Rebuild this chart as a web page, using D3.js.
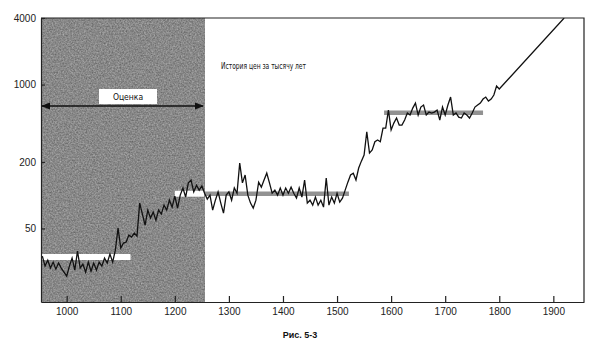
<!DOCTYPE html>
<html>
<head>
  <meta charset="UTF-8">
  <style>
    body { margin: 0; background: #fff; }
    svg { display: block; }
  </style>
</head>
<body>
<svg></svg>

<script src="https://d3js.org/d3.v7.min.js"></script>
<script>

let width = 600, height = 358;

// price index
let years = [955, 960, 965, 970, 975, 980, 985, 990, 995,
  1000, 1005, 1010, 1015, 1020, 1025, 1030, 1035, 1040, 1045, 1050, 1055, 1060, 1065, 1070, 1075, 1080, 1085, 1090, 1095,
  1100, 1105, 1110, 1115, 1120, 1125, 1130, 1135, 1140, 1145, 1150, 1155, 1160, 1165, 1170, 1175, 1180, 1185, 1190, 1195,
  1200, 1205, 1210, 1215, 1220, 1225, 1230, 1235, 1240, 1245, 1250, 1255, 1260, 1265, 1270, 1275, 1280, 1285, 1290, 1295,
  1300, 1305, 1310, 1315, 1320, 1325, 1330, 1335, 1340, 1345, 1350, 1355, 1360, 1365, 1370, 1375, 1380, 1385, 1390, 1395,
  1400, 1405, 1410, 1415, 1420, 1425, 1430, 1435, 1440, 1445, 1450, 1455, 1460, 1465, 1470, 1475, 1480, 1485, 1490, 1495,
  1500, 1505, 1510, 1515, 1520, 1525, 1530, 1535, 1540, 1545, 1550, 1555, 1560, 1565, 1570, 1575, 1580, 1585, 1590, 1595,
  1600, 1605, 1610, 1615, 1620, 1625, 1630, 1635, 1640, 1645, 1650, 1655, 1660, 1665, 1670, 1675, 1680, 1685, 1690, 1695,
  1700, 1705, 1710, 1715, 1720, 1725, 1730, 1735, 1740, 1745, 1750, 1755, 1760, 1765, 1770, 1775, 1780, 1785, 1790, 1795,
  1800, 1920];
let prices = [28.1, 22.8, 25.8, 21.9, 24.8, 21.4, 24.3, 21.9, 20.1,
  18.5, 22.8, 26.9, 21.0, 31.2, 21.9, 23.8, 20.1, 24.8, 20.5, 24.3, 21.0, 24.8, 22.8, 26.9, 24.3, 29.3, 24.8, 31.8, 50.3,
  33.2, 36.8, 37.6, 43.5, 41.7, 45.4, 42.6, 84.7, 67.4, 53.6, 73.2, 62.0, 70.2, 59.4, 73.2, 67.4, 81.2, 73.2, 90, 77.9,
  98, 76.3, 100, 116, 96, 129, 137, 107, 123, 111, 121, 104, 92, 100, 73.2, 90, 107, 84.7, 68.8, 100,
  107, 90, 116, 104, 195, 129, 152, 100, 84.7, 76.3, 90, 131, 118, 137, 158, 129, 104, 111, 100, 116,
  100, 116, 104, 118, 104, 94, 116, 96, 137, 84.7, 90, 81.2, 96, 81.2, 90, 77.9, 143, 81.2, 96, 84.7,
  104, 86.5, 94, 111, 131, 152, 158, 137, 176, 203, 230, 374, 240, 256, 304, 315, 304, 404, 404, 588,
  388, 448, 498, 430, 430, 478, 553, 530, 613, 680, 530, 626, 653, 530, 564, 553, 564, 588, 478, 626,
  530, 653, 771, 530, 553, 508, 498, 553, 530, 498, 553, 626, 653, 680, 740, 771, 709, 740, 804, 970,
  911, 4000];

// average levels (horizontal bands)
let bandFrom = [952, 1200, 1587];
let bandTo = [1118, 1522, 1770];
let bandLevel = [27.5, 103, 555];

let xTicks = [1000, 1100, 1200, 1300, 1400, 1500, 1600, 1700, 1800, 1900];
let yTicks = [50, 200, 1000, 4000];

let estimateEnd = 1254;
let title = "История цен за тысячу лет";
let estimateLabel = "Оценка";
let caption = "Рис. 5-3";

let mLeft = 41, mRight = 584, mTop = 18, mBottom = 302;
let condensed = "DejaVu Sans Condensed, Liberation Sans Narrow, sans-serif";

let svg = d3.select("svg")
    .attr("width", width)
    .attr("height", height)
    .attr("viewBox", "0 0 " + width + " " + height);

let x = d3.scaleLinear().domain([952.5, 1956.7]).range([mLeft, mRight]);
let y = d3.scaleLog().domain([10.8, 4000]).range([mBottom, mTop]);

let defs = svg.append("defs");

// grainy grey for the estimated period
let grain = defs.append("filter")
    .attr("id", "grain")
    .attr("color-interpolation-filters", "sRGB")
    .attr("x", 0).attr("y", 0).attr("width", "100%").attr("height", "100%");
grain.append("feTurbulence")
    .attr("type", "fractalNoise")
    .attr("baseFrequency", 0.65)
    .attr("numOctaves", 3)
    .attr("seed", 7)
    .attr("result", "noise");
grain.append("feColorMatrix")
    .attr("in", "noise")
    .attr("type", "matrix")
    .attr("values", "0.35 0 0 0 0.36  0.35 0 0 0 0.36  0.35 0 0 0 0.36  0 0 0 0 1");

defs.append("clipPath").attr("id", "plot")
  .append("rect")
    .attr("x", mLeft).attr("y", mTop)
    .attr("width", mRight - mLeft).attr("height", mBottom - mTop);

defs.append("marker")
    .attr("id", "arrow")
    .attr("viewBox", "0 0 10 10")
    .attr("refX", 9).attr("refY", 5)
    .attr("markerWidth", 7).attr("markerHeight", 7)
    .attr("orient", "auto-start-reverse")
  .append("path")
    .attr("d", "M0,1 L10,5 L0,9 Z")
    .attr("fill", "#111");

svg.append("rect")
    .attr("x", mLeft)
    .attr("y", mTop)
    .attr("width", x(estimateEnd) - mLeft)
    .attr("height", mBottom - mTop)
    .attr("fill", "#8c8c8c")
    .attr("filter", "url(#grain)");

// bands: grey everywhere, white inside the shaded part
let bands = svg.append("g").attr("clip-path", "url(#plot)");
bands.selectAll("line.grey")
    .data(bandLevel)
    .enter()
    .append("line")
    .attr("class", "grey")
    .attr("x1", (d, i) => x(Math.max(bandFrom[i], estimateEnd)))
    .attr("x2", (d, i) => x(bandTo[i]))
    .attr("y1", d => y(d))
    .attr("y2", d => y(d))
    .attr("stroke", "#929292")
    .attr("stroke-width", 4.5)
    .style("display", (d, i) => bandTo[i] > estimateEnd ? null : "none");
bands.selectAll("line.white")
    .data(bandLevel)
    .enter()
    .append("line")
    .attr("class", "white")
    .attr("x1", (d, i) => x(bandFrom[i]))
    .attr("x2", (d, i) => x(Math.min(bandTo[i], estimateEnd)))
    .attr("y1", d => y(d))
    .attr("y2", d => y(d))
    .attr("stroke", "#fff")
    .attr("stroke-width", 6)
    .style("display", (d, i) => bandFrom[i] < estimateEnd ? null : "none");

let line = d3.line()
    .x((d, i) => x(years[i]))
    .y(d => y(d));

svg.append("path")
    .datum(prices)
    .attr("clip-path", "url(#plot)")
    .attr("d", line)
    .attr("fill", "none")
    .attr("stroke", "#111")
    .attr("stroke-width", 1.3)
    .attr("stroke-linejoin", "miter");

// axes
let xAxis = d3.axisBottom(x).tickValues(xTicks).tickFormat(d3.format("d")).tickSizeInner(-6).tickSizeOuter(0).tickPadding(6);
let yAxis = d3.axisLeft(y).tickValues(yTicks).tickFormat(d3.format("d")).tickSizeInner(-4).tickSizeOuter(0).tickPadding(5);

svg.append("g")
    .attr("transform", "translate(0," + mBottom + ")")
    .call(xAxis)
    .call(g => g.selectAll("text").attr("font-size", 10).attr("font-family", "Liberation Sans, Arial, sans-serif").attr("fill", "#222"));

svg.append("g")
    .attr("transform", "translate(" + mLeft + ",0)")
    .call(yAxis)
    .call(g => g.selectAll("text").attr("font-size", 10).attr("font-family", "Liberation Sans, Arial, sans-serif").attr("fill", "#222"));

svg.selectAll(".domain, .tick line").attr("stroke", "#222").attr("stroke-width", 1.2);

// frame top and right
svg.append("path")
    .attr("d", "M" + mLeft + "," + mTop + "H" + mRight + "V" + mBottom)
    .attr("fill", "none")
    .attr("stroke", "#222")
    .attr("stroke-width", 1.2);

// estimate arrow and label
svg.append("line")
    .attr("x1", mLeft + 1)
    .attr("x2", x(estimateEnd) - 1)
    .attr("y1", 106).attr("y2", 106)
    .attr("stroke", "#111")
    .attr("stroke-width", 1.3)
    .attr("marker-start", "url(#arrow)")
    .attr("marker-end", "url(#arrow)");

svg.append("rect")
    .attr("x", 99).attr("y", 89)
    .attr("width", 58).attr("height", 15)
    .attr("fill", "#fff");

svg.append("text")
    .attr("x", 128).attr("y", 100)
    .attr("text-anchor", "middle")
    .attr("font-family", condensed)
    .attr("font-size", 8.5)
    .attr("fill", "#111")
    .text(estimateLabel);

svg.append("text")
    .attr("x", 221).attr("y", 69)
    .attr("font-family", condensed)
    .attr("font-size", 8.5)
    .attr("textLength", 85)
    .attr("lengthAdjust", "spacingAndGlyphs")
    .attr("fill", "#111")
    .text(title);

svg.append("text")
    .attr("x", 300).attr("y", 338)
    .attr("text-anchor", "middle")
    .attr("font-family", "Liberation Sans, Arial, sans-serif")
    .attr("font-size", 9)
    .attr("font-weight", 700)
    .attr("fill", "#111")
    .text(caption);

</script>
</body>
</html>
